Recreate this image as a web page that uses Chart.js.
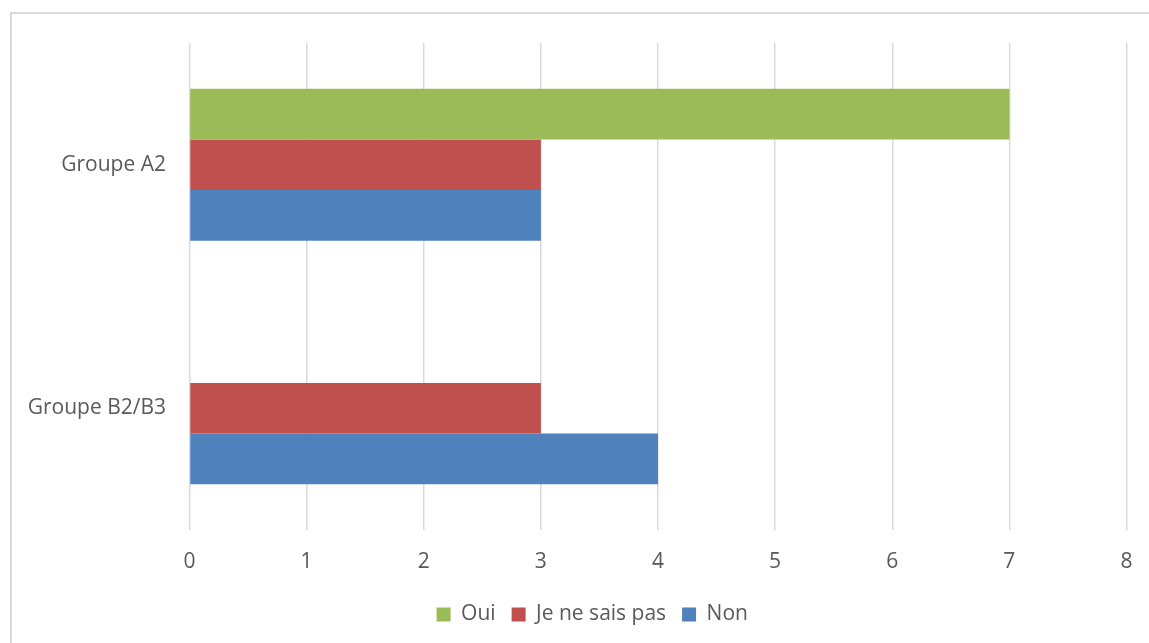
<!DOCTYPE html>
<html>
<head>
<meta charset="utf-8">
<script src="https://cdn.jsdelivr.net/npm/chart.js@4.4.1/dist/chart.umd.min.js"></script>
<style>
  html, body { margin:0; padding:0; background:#fff; overflow:hidden; }
  #frame { position:absolute; left:10px; top:12px; width:1200px; height:700px; border:2px solid #d9d9d9; box-sizing:border-box; }
  #wrap  { position:absolute; left:0; top:0; width:1149px; height:643px; }
</style>
</head>
<body>
<div id="frame"></div>
<div id="wrap"><canvas id="chartGroupes" width="1149" height="643"></canvas></div>
<script>
// données
const GROUPES = ['Groupe A2', 'Groupe B2/B3'];
const OUI     = [7, 0];
const JNSP    = [3, 3];
const NON     = [3, 4];
const X_TICKS = [0, 1, 2, 3, 4, 5, 6, 7, 8];

const C = { green:'#9BBB59', red:'#C0504D', blue:'#4F81BD', grid:'#D9D9D9', text:'#595959' };
const FONT = { family:'Open Sans', size:21 };

// la légende Excel est centrée sur toute la zone du graphique (plus large que l'image)
const legendShift = {
  id: 'legendShift',
  afterLayout(chart) { chart.legend.left += 58; }
};

const ctx = document.getElementById('chartGroupes').getContext('2d');
new Chart(ctx, {
  type: 'bar',
  data: {
    labels: GROUPES,
    datasets: [
      { label:'Oui',            data:OUI,  backgroundColor:C.green, borderWidth:0 },
      { label:'Je ne sais pas', data:JNSP, backgroundColor:C.red,   borderWidth:0 },
      { label:'Non',            data:NON,  backgroundColor:C.blue,  borderWidth:0 },
    ]
  },
  options: {
    indexAxis: 'y',
    responsive: false, animation: false, devicePixelRatio: 1,
    datasets: { bar: { barPercentage:1, categoryPercentage:0.625 } },
    layout: { padding: { top:43, right:22.5, left:0, bottom:8 } },
    plugins: {
      tooltip: { enabled:false },
      legend: {
        position: 'bottom',
        labels: { color:C.text, font:FONT, boxWidth:14, boxHeight:14, padding:16 }
      }
    },
    scales: {
      x: {
        min: 0, max: 8,
        afterBuildTicks: s => { s.ticks = X_TICKS.map(v => ({ value:v })); },
        // tick marks invisibles : l'écart étiquettes/axe passe par tickLength
        grid: { color:C.grid, lineWidth:1.5, drawTicks:true, tickLength:16, tickColor:'rgba(0,0,0,0)' },
        border: { display:false },
        ticks: { color:C.text, font:FONT, padding:3 },
        afterFit: s => { s.height = 58; }
      },
      y: {
        grid: { display:false, drawTicks:false },
        border: { display:false },
        ticks: { color:C.text, font:FONT, padding:23.5 },
        afterFit: s => { s.width = 189.5; }
      }
    }
  },
  plugins: [legendShift]
});
</script>
</body>
</html>
